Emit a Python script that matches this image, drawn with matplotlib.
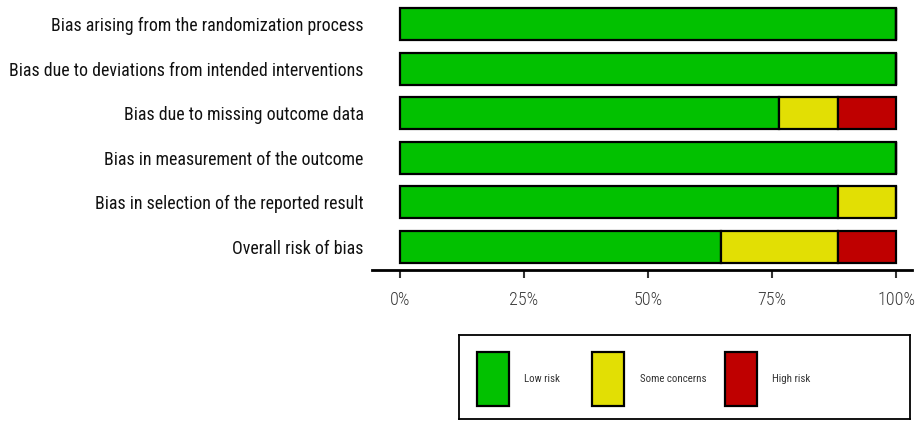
import matplotlib
matplotlib.use("Agg")
import matplotlib.pyplot as plt
from matplotlib.patches import Rectangle
from matplotlib import font_manager
import numpy as np

domains = [
    "Bias arising from the randomization process",
    "Bias due to deviations from intended interventions",
    "Bias due to missing outcome data",
    "Bias in measurement of the outcome",
    "Bias in selection of the reported result",
    "Overall risk of bias",
]
low_risk = [100.0, 100.0, 76.47, 100.0, 88.24, 64.71]
some_concerns = [0.0, 0.0, 11.76, 0.0, 11.76, 23.53]
high_risk = [0.0, 0.0, 11.76, 0.0, 0.0, 11.76]
categories = ["Low risk", "Some concerns", "High risk"]
colors = ["#02C100", "#E2DF04", "#BF0000"]
xticks = [0, 25, 50, 75, 100]
xticklabels = ["0%", "25%", "50%", "75%", "100%"]

fam = None
for cand in ["Liberation Sans Narrow", "Roboto Condensed", "Roboto", "Liberation Sans"]:
    try:
        font_manager.findfont(cand, fallback_to_default=False)
        fam = cand
        break
    except Exception:
        continue
plt.rcParams["font.family"] = [fam, "DejaVu Sans"]

W, H = 915, 421
fig = plt.figure(figsize=(W / 100, H / 100), dpi=100)
renderer = fig.canvas.get_renderer()


def fit_size(text, target_px, base=14, weight="normal"):
    t = fig.text(0, 0, text, fontsize=base, fontweight=weight)
    w = t.get_window_extent(renderer).width
    t.remove()
    return base * target_px / w


label_size = fit_size(domains[1], 356)
tick_size = fit_size("100%", 38, weight="light")
leg_size = fit_size("Some concerns", 67)

# main axes: from x=372 to 912 px, y=0 to 270 px
ax = fig.add_axes([372 / W, (H - 270) / H, 540 / W, 270 / H])
ypos = np.arange(len(domains))
left = np.zeros(len(domains))
for vals, col in zip([low_risk, some_concerns, high_risk], colors):
    v = np.array(vals)
    ax.barh(ypos, v, left=left, height=0.72, color=col, edgecolor="black",
            linewidth=1.6)
    left = left + v

ax.set_xlim(-28 / 4.96, 100 + 16 / 4.96)
ax.set_ylim(5.52, -0.54)
ax.set_yticks(ypos)
ax.set_yticklabels(domains, fontsize=label_size, color="#111111")
ax.tick_params(axis="y", length=0, pad=6)
ax.set_xticks(xticks)
ax.set_xticklabels(xticklabels, fontsize=tick_size, color="#3a3a3a",
                   fontweight="light")
ax.tick_params(axis="x", length=6, width=1.5, color="#333333", pad=9)
for s in ["left", "right", "top"]:
    ax.spines[s].set_visible(False)
ax.spines["bottom"].set_linewidth(2)

# legend box
lax = fig.add_axes([459 / W, 2 / H, 451 / W, 84 / H])
lax.set_xlim(0, 451)
lax.set_ylim(0, 84)
lax.set_xticks([])
lax.set_yticks([])
for s in lax.spines.values():
    s.set_linewidth(1.3)
    s.set_color("black")
px = [18, 133, 266]
tx = [65, 181, 313]
for p, t, c, lab in zip(px, tx, colors, categories):
    lax.add_patch(Rectangle((p, 13), 32, 54, facecolor=c, edgecolor="black",
                            linewidth=1.6))
    lax.text(t, 40, lab, fontsize=leg_size, va="center", ha="left", color="#333333")

fig.savefig("out.png", dpi=100)
